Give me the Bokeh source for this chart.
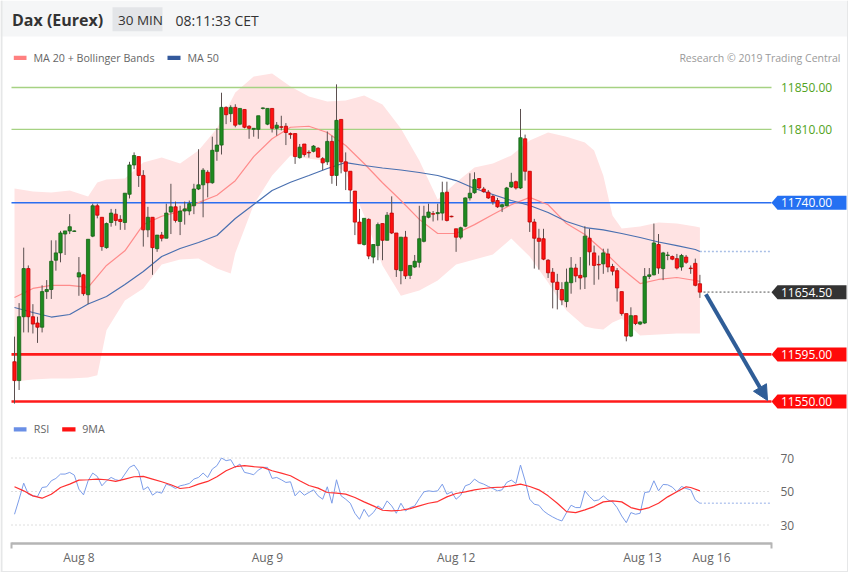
import numpy as np
from bokeh.plotting import figure
from bokeh.models import Range1d, Arrow, NormalHead, ColumnDataSource
from bokeh.core.properties import value
from bokeh.embed import file_html
from bokeh.resources import INLINE

# ------------------------------------------------------------------ data
opens = [11588, 11570, 11631, 11677, 11631, 11625, 11621, 11655, 11657, 11685,
         11692, 11710, 11713, 11712.5, 11669, 11671, 11652, 11708, 11737, 11726,
         11697, 11721, 11729, 11724, 11721, 11748, 11776, 11784, 11766, 11714,
         11726, 11696, 11709, 11706, 11731, 11736, 11722, 11732, 11732, 11737,
         11753, 11757, 11769, 11759, 11789, 11795, 11831, 11825, 11831, 11815,
         11829, 11813, 11810, 11810, 11830, 11815, 11830, 11811, 11812.5, 11813,
         11806, 11806, 11783, 11796, 11788, 11789, 11792, 11782, 11779, 11798.5,
         11766, 11819.5, 11779, 11770, 11751, 11721.4, 11700, 11724, 11688, 11699,
         11720, 11704, 11730, 11711, 11675, 11707, 11670.5, 11678.5, 11683, 11703,
         11726, 11729.5, 11729.5, 11730, 11750, 11727, 11715, 11707, 11717.5, 11744.5,
         11749.5, 11763, 11753, 11750, 11746, 11742, 11736, 11737, 11755, 11760,
         11754, 11801, 11770, 11721.5, 11706, 11705.5, 11685, 11673.5, 11664, 11657,
         11645.5, 11663.5, 11677.5, 11670.5, 11669, 11706, 11692, 11681, 11681.5, 11691,
         11679, 11675, 11655, 11634, 11612.5, 11632, 11624, 11625, 11669.5, 11671,
         11700, 11677, 11689.5, 11688.5, 11686.5, 11678.5, 11688, 11677.5, 11682, 11662.5]
highs = [11612, 11644, 11697, 11680, 11643, 11631, 11661, 11666, 11704, 11704,
         11713, 11713, 11729, 11713.5, 11688, 11672, 11705, 11739, 11739, 11726,
         11721, 11734, 11734, 11728, 11749, 11779, 11788, 11784, 11771, 11736,
         11726, 11709, 11712, 11739, 11758, 11741, 11737, 11741, 11742, 11758,
         11791, 11773, 11771, 11803, 11811, 11845, 11832, 11833, 11834, 11830,
         11829, 11814, 11811, 11823, 11831, 11830, 11830, 11817, 11823, 11816,
         11807, 11806, 11796, 11796, 11790, 11795, 11793, 11783.5, 11808, 11804,
         11853, 11819.5, 11788, 11770, 11751, 11734, 11725, 11725, 11700, 11721,
         11720, 11731, 11746, 11711, 11707, 11713, 11680, 11690, 11737, 11737,
         11739, 11732, 11739, 11760, 11760, 11727.5, 11715, 11717, 11745, 11768,
         11769, 11763.5, 11755, 11752, 11747.5, 11744.5, 11739, 11755, 11768.5, 11761,
         11829.5, 11805, 11770, 11724.5, 11715, 11715, 11686, 11677.5, 11672, 11664,
         11677, 11688, 11681.5, 11688, 11717.5, 11715, 11699, 11689.5, 11696, 11696,
         11681.5, 11677.5, 11655, 11634, 11640, 11632, 11626.5, 11677.5, 11677.5, 11720,
         11710, 11693, 11693, 11689.5, 11691, 11691, 11690, 11680, 11686.5, 11671]
lows = [11548, 11561, 11616, 11616, 11615, 11606, 11616, 11648, 11648, 11675,
        11683, 11690, 11710, 11712, 11651, 11651, 11643, 11707, 11725, 11694,
        11696, 11717, 11718, 11714, 11714, 11744, 11772, 11755, 11698, 11707,
        11671, 11693, 11703, 11706, 11710, 11721, 11709, 11719, 11728, 11729,
        11752, 11726, 11745, 11758, 11780, 11786, 11815, 11817, 11812, 11814,
        11811, 11801, 11803, 11801, 11829, 11814, 11807, 11804, 11809, 11795,
        11801, 11777, 11782, 11784, 11783, 11788, 11783, 11771, 11776, 11758,
        11756, 11768, 11752, 11740.5, 11709, 11700.7, 11699, 11686, 11682, 11685,
        11685, 11704, 11710, 11669, 11662, 11667, 11667, 11677.5, 11678, 11702,
        11725, 11722, 11723, 11723, 11722, 11726, 11693, 11705, 11716.5, 11742,
        11748.5, 11752.5, 11749.5, 11743.5, 11738, 11735, 11731, 11736.5, 11754, 11752.5,
        11753, 11761, 11712, 11677, 11676, 11685, 11668, 11639, 11638, 11642,
        11640, 11653, 11664, 11657, 11657.5, 11680, 11661.5, 11666.5, 11672, 11673.5,
        11670.5, 11645.5, 11632, 11607.5, 11611.5, 11623, 11623, 11624, 11667, 11670.5,
        11672, 11666, 11685, 11685, 11676, 11675, 11681.5, 11672, 11660, 11649]
closes = [11570, 11631, 11677, 11631, 11624, 11621, 11655, 11657, 11684, 11692,
          11711, 11713, 11717, 11713, 11673, 11653, 11705, 11737, 11728, 11698,
          11720, 11730, 11723, 11722, 11749, 11776, 11785, 11766, 11714, 11726,
          11697, 11709, 11706, 11730, 11736, 11723, 11732, 11734, 11739, 11753,
          11757, 11771, 11759, 11790, 11795, 11831, 11824, 11831, 11814, 11830,
          11812, 11811, 11811, 11823, 11830.5, 11830, 11811, 11814, 11812, 11807,
          11805, 11784, 11793, 11786, 11787.5, 11794, 11783.5, 11778, 11798.5, 11766,
          11818.6, 11779, 11770, 11752, 11721.4, 11700.7, 11725, 11689, 11700, 11719,
          11704, 11728, 11711, 11676, 11707, 11670, 11680, 11684, 11705.5, 11727,
          11731, 11729, 11730.5, 11749.5, 11723, 11726.5, 11707, 11716, 11744.5, 11749,
          11762, 11754, 11750.5, 11744.5, 11741, 11736, 11738, 11754, 11759.5, 11754,
          11802, 11770, 11721.5, 11706, 11703, 11686, 11673, 11664, 11657, 11647,
          11664, 11677.5, 11670, 11668, 11708, 11693, 11680, 11680.5, 11692, 11678.5,
          11674.5, 11658.5, 11634, 11612.5, 11632, 11624.5, 11626, 11669.5, 11671, 11701.5,
          11677.5, 11692, 11690, 11686, 11677.5, 11689.5, 11683, 11677, 11661, 11654.5]

band_idx = [0, 4, 8, 12, 16, 18, 20, 24, 28, 32, 36, 40, 44, 47, 48, 52, 56, 60, 64, 68,
            72, 76, 80, 84, 88, 92, 96, 100, 104, 108, 112, 116, 120, 124, 126, 128, 130,
            132, 136, 140, 144, 148, 149]
band_upper = [11753.5, 11750.6, 11749.7, 11751.6, 11745.9, 11759.2, 11762.1, 11763.1, 11778.3,
              11783.1, 11777.4, 11789.8, 11810.8, 11836.6, 11845.2, 11860.5, 11863.4, 11851,
              11841.4, 11836.6, 11837.6, 11842.4, 11833.8, 11810.8, 11780.3, 11743, 11759.2,
              11773.6, 11777.4, 11785, 11799.4, 11807, 11803, 11797.5, 11789.8, 11765.9,
              11727.7, 11715.3, 11717.2, 11721, 11720.1, 11717.2, 11716.2]
band_lower = [11569, 11571, 11572, 11572, 11573, 11575, 11618, 11646.5, 11658, 11681, 11685.7,
              11686.6, 11677, 11672.3, 11692, 11738, 11766, 11785, 11782, 11780, 11769, 11728,
              11680, 11651, 11656, 11665.6, 11681, 11685.7, 11690.5, 11705.7, 11688.5, 11663.7,
              11637, 11621.7, 11619.8, 11618.8, 11625.5, 11629.3, 11613, 11614, 11615, 11615,
              11615]

ma_idx = [0, 4, 8, 12, 16, 20, 24, 28, 32, 36, 40, 44, 48, 52, 56, 60, 64, 68, 72, 76,
          80, 84, 88, 92, 96, 100, 104, 108, 112, 116, 120, 124, 128, 132, 136, 140, 144,
          148, 149]
ma20 = [11649.4, 11658, 11661, 11661, 11659, 11680, 11694, 11719, 11727, 11731.5,
        11740, 11747, 11761, 11784, 11801, 11812, 11813, 11807, 11794.6, 11777.4,
        11759, 11742, 11724, 11710.5, 11710.5, 11719, 11728.7, 11738, 11745, 11738,
        11720, 11709.6, 11694, 11677, 11662.7, 11666.6, 11668.5, 11665.6, 11664.7]
ma50 = [11639.8, 11635, 11630.7, 11633.1, 11643.2, 11650.3, 11661.8, 11674.2, 11688.5, 11696.2,
        11701.9, 11708.6, 11724.8, 11738.2, 11751.6, 11759.5, 11765.9, 11772.6, 11778.3, 11775.5,
        11773.1, 11771.2, 11768.8, 11765.9, 11761.1, 11753.5, 11747.8, 11742, 11737.3, 11730.6,
        11722, 11716.2, 11713.9, 11710.5, 11706.7, 11702.4, 11699, 11695.2, 11693.3]

rsi = [36.4, 45.4, 55, 48.4, 47.4, 47, 52.4, 52.8, 56.4, 57.8,
       60.4, 60.4, 61.4, 59.8, 51.4, 48, 56.4, 61, 59, 53.4,
       56.4, 58.4, 57, 56.4, 60.4, 64.4, 65.8, 62, 51, 52.8,
       47.8, 49.8, 49, 54.4, 53.4, 51.8, 53.4, 54, 54.8, 57.4,
       58.4, 61, 58.4, 63.4, 65.4, 70, 68.4, 69, 64.4, 66.4,
       61.4, 60.8, 60, 62.8, 64.4, 64.4, 57.8, 58.4, 57, 55.4,
       55.8, 47.4, 50.4, 47.8, 49.4, 51, 47.4, 45.4, 52.8, 43,
       57, 47.4, 45.4, 43, 37, 33.4, 39.4, 35, 37.4, 41.4,
       39.4, 44.4, 41.4, 37, 43, 38.4, 40.4, 41.4, 45.8, 49.8,
       50.4, 50, 50.4, 54.4, 48.4, 49.8, 45.4, 47.8, 53.4, 54.4,
       57.4, 55.4, 54.4, 53, 51.8, 50.4, 51, 55.4, 56.8, 54.8,
       65.8, 56.4, 45.4, 42.4, 41.8, 38.4, 36.4, 34.8, 33.4, 32.4,
       37.4, 41.8, 40.4, 40.4, 50.4, 47, 44.4, 45, 47.4, 45,
       43.8, 40.4, 35.4, 31.4, 37.4, 36.4, 37, 49.4, 49.8, 56.4,
       50.4, 54.2, 54, 52.6, 49.8, 53, 51.8, 51, 45, 43]
ma9_idx = list(range(0, 147, 2)) + [147, 149]
ma9 = [52.8, 50.4, 47.4, 46, 48.4, 52.4, 54.4, 56.8, 57, 57.4,
       57, 56, 57.4, 58.8, 59, 57.4, 55.8, 54, 51.8, 52.4,
       54.4, 56, 58.8, 62.4, 64.8, 65.4, 64.8, 64.4, 62.4, 61,
       59.4, 56.4, 53.6, 52, 49.4, 49, 48.4, 46.4, 43.8, 41.4,
       38.8, 38.4, 38.8, 39.8, 41.4, 43, 44, 46.8, 48.8, 49.8,
       51, 51.8, 52.4, 52.6, 53.4, 54.4, 53, 51, 47.4, 43,
       38, 37.4, 39, 41, 43.8, 44.4, 43.8, 40.4, 39, 40.4,
       43, 46.8, 49.8, 52.8, 52.4, 50.4]

resistances = [11850, 11810]
pivot = 11740
supports = [11595, 11550]
last_price = 11654.5
target = 11550

date_ticks = [14, 55, 96, 136.5, 151.5]
date_labels = ["Aug 8", "Aug 9", "Aug 12", "Aug 13", "Aug 16"]
rsi_levels = [30, 50, 70]

# ------------------------------------------------------------------ layout helpers
FONT = value("Open Sans")
W, H = 850, 576
STEP = 4.6        # page px per candle
X0 = 14           # page x of first candle
PPT = 1.0467      # page px per index point
def ix(px):
    return (px - X0) / STEP
def py(ypx):
    return 11850 - (ypx - 87) / PPT
def rv(ypx):
    return 50 - (ypx - 491) / 1.675

GREY_TXT = "#666666"
LINE_L, LINE_R = ix(11), ix(771)

p = figure(width=W, height=H, x_range=Range1d(ix(0), ix(W)), y_range=Range1d(py(H), py(0)),
           output_backend="svg", toolbar_location=None, min_border=0,
           x_axis_location=None, y_axis_location=None)
p.extra_y_ranges = {"rsi": Range1d(rv(H), rv(0))}
p.grid.visible = False
p.outline_line_color = None

def quad_px(l, r, t, b, color):
    p.quad(left=[ix(l)], right=[ix(r)], top=[py(t)], bottom=[py(b)], fill_color=color, line_color=None)

def text_px(x, y, s, size, color=GREY_TXT, align="left", style="normal"):
    p.text(x=[ix(x)], y=[py(y)], text=[s], text_font=FONT, text_font_size=size, text_color=color,
           text_baseline="middle", text_align=align, text_font_style=style)

# ------------------------------------------------------------------ frame / header
quad_px(0, 847, 0, 36, "#f5f6f7")
quad_px(0, 2, 0, 571, "#e6e7e8")
quad_px(846.5, 847.5, 0, 571, "#e6e7e8")
quad_px(0, 847.5, 570.5, 571.5, "#e6e7e8")
quad_px(112, 162, 6.7, 30.7, "#e3e5e8")
text_px(11.5, 19.5, "Dax (Eurex)", "16px", "#333333", style="bold")
text_px(140, 19.5, "30 MIN", "13.5px", "#333333", align="center")
text_px(175, 19.5, "08:11:33 CET", "14px", "#333333")

# legend row
quad_px(13.3, 26, 55.3, 59.5, "#ff8080")
text_px(33, 57.5, "MA 20 + Bollinger Bands", "10.7px")
quad_px(167, 180, 55.3, 59.5, "#33599c")
text_px(187, 57.5, "MA 50", "10.7px")
text_px(840, 57, "Research \u00a9 2019 Trading Central", "10.5px", "#9a9a9a", align="right")

# ------------------------------------------------------------------ main chart
p.varea(x=band_idx, y1=band_lower, y2=band_upper, fill_color="#ffe3e3")

for lv in resistances:
    p.segment(x0=[LINE_L], y0=[lv], x1=[LINE_R], y1=[lv], line_color="#a6d283", line_width=1.3)
    p.text(x=[ix(780.5)], y=[lv], text=["%.2f" % lv], text_font=FONT, text_font_size="12px",
           text_color="#52a31d", text_baseline="middle")
p.segment(x0=[LINE_L], y0=[pivot], x1=[LINE_R], y1=[pivot], line_color="#2b6ef0", line_width=1.5)
for lv in supports:
    p.segment(x0=[LINE_L], y0=[lv], x1=[LINE_R], y1=[lv], line_color="#ff1a1a", line_width=2.6)

p.segment(x0=[len(closes) - 1], y0=[ma50[-1]], x1=[LINE_R], y1=[ma50[-1]],
          line_color="#a9bfe6", line_width=1.6, line_dash="2 2")
p.segment(x0=[ix(703)], y0=[last_price], x1=[LINE_R], y1=[last_price],
          line_color="#9c9c9c", line_width=1.6, line_dash="2 2")

p.line(ma_idx, ma20, line_color="#ff8c8c", line_width=1.2)
p.line(ma_idx, ma50, line_color="#4a70b0", line_width=1.2)

idx = np.arange(len(closes))
o = np.array(opens, dtype=float)
c = np.array(closes, dtype=float)
up = c >= o
src = ColumnDataSource(dict(x=idx, top=np.maximum(o, c), bottom=np.minimum(o, c),
                            high=highs, low=lows,
                            fill=np.where(up, "#1f8a1f", "#ff1212"),
                            edge=np.where(up, "#166316", "#c00000")))
p.segment(x0="x", y0="low", x1="x", y1="high", source=src, line_color="#5b4f4f", line_width=1)
p.vbar(x="x", top="top", bottom="bottom", width=0.72, fill_color="fill", line_color="edge",
       line_width=0.8, source=src)

half = 7 / PPT
tip, sh, rgt = ix(771), ix(777), ix(846)
tags = [(pivot, "#2470f2"), (last_price, "#333333")] + [(lv, "#ff0a0a") for lv in supports]
p.patches(xs=[[tip, sh, rgt, rgt, sh] for _ in tags],
          ys=[[lv, lv + half, lv + half, lv - half, lv - half] for lv, _ in tags],
          fill_color=[col for _, col in tags], line_color=None)
p.text(x=[ix(780.5)] * len(tags), y=[lv for lv, _ in tags], text=["%.2f" % lv for lv, _ in tags],
       text_font=FONT, text_font_size="12px", text_color="white", text_baseline="middle")

p.add_layout(Arrow(end=NormalHead(size=15, fill_color="#2f5d97", line_color="#2f5d97"),
                   x_start=len(closes) + 0.3, y_start=last_price - 2, x_end=ix(767), y_end=target + 1,
                   line_color="#2f5d97", line_width=4))

# ------------------------------------------------------------------ RSI panel
R = "rsi"
for lv in rsi_levels:
    p.segment(x0=[LINE_L], y0=[lv], x1=[ix(770)], y1=[lv], line_color="#bdbdbd", line_width=1,
              line_dash="1 3", y_range_name=R)
    p.text(x=[ix(780)], y=[lv], text=[str(lv)], text_font=FONT, text_font_size="12px",
           text_color=GREY_TXT, text_baseline="middle", y_range_name=R)

p.quad(left=[ix(13.3)], right=[ix(26)], top=[rv(426.7)], bottom=[rv(431)], fill_color="#6a8fe6",
       line_color=None, y_range_name=R)
p.text(x=[ix(33.3)], y=[rv(428.7)], text=["RSI"], text_font=FONT, text_font_size="10.7px",
       text_color=GREY_TXT, text_baseline="middle", y_range_name=R)
p.quad(left=[ix(61.7)], right=[ix(75)], top=[rv(426.7)], bottom=[rv(431)], fill_color="#ff1111",
       line_color=None, y_range_name=R)
p.text(x=[ix(81.7)], y=[rv(428.7)], text=["9MA"], text_font=FONT, text_font_size="10.7px",
       text_color=GREY_TXT, text_baseline="middle", y_range_name=R)

p.segment(x0=[len(rsi) - 1], y0=[rsi[-1]], x1=[ix(770.7)], y1=[rsi[-1]], line_color="#b9caf0",
          line_width=1.6, line_dash="2 2", y_range_name=R)
p.line(list(range(len(rsi))), rsi, line_color="#7c9de9", line_width=1, y_range_name=R)
p.line(ma9_idx, ma9, line_color="#ff3030", line_width=1.2, y_range_name=R)

# time axis
p.segment(x0=[LINE_L], y0=[rv(543)], x1=[LINE_R], y1=[rv(543)], line_color="#b5b5b5", line_width=2.5,
          y_range_name=R)
p.segment(x0=[LINE_L, LINE_R], y0=[rv(542)] * 2, x1=[LINE_L, LINE_R], y1=[rv(548)] * 2,
          line_color="#b5b5b5", line_width=2, y_range_name=R)
p.text(x=date_ticks, y=[rv(556.5)] * len(date_ticks), text=date_labels, text_font=FONT,
       text_font_size="12px", text_color=GREY_TXT, text_baseline="middle", text_align="center",
       y_range_name=R)

open("out.html", "w").write(file_html(p, INLINE))
